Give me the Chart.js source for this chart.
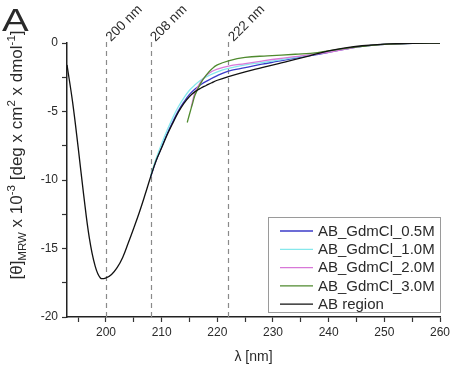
<!DOCTYPE html>
<html>
<head>
<meta charset="utf-8">
<script src="https://cdn.jsdelivr.net/npm/chart.js@4"></script>
<style>
html,body{margin:0;padding:0;background:#fff;}
#c{display:block;}
</style>
</head>
<body>
<canvas id="c" width="457" height="367"></canvas>
<script>
// ---- data ----
const xTicks = [195,200,205,210,215,220,225,230,235,240,245,250,255,260];
const yTicks = [-20,-17.5,-15,-12.5,-10,-7.5,-5,-2.5,0];
const markerLines = [200,208,222];
const markerLabels = ['200 nm','208 nm','222 nm'];

const seriesLabels = ['AB_GdmCl_0.5M','AB_GdmCl_1.0M','AB_GdmCl_2.0M','AB_GdmCl_3.0M','AB region'];
const seriesColors = ['#3b3bc8','#86e8ec','#d878d8','#4f8a2e','#111111'];

const wlAB  = [193,194,195,196,197,198,199,200,201,202,203,204,205,206,207,208,209,210,211,212,213,214,215,216,217,218,219,220,222,225,228,231,234,237,240,243,246,250,255,260];
const valAB = [-1.6,-4.3,-7.6,-11.1,-14.2,-16.2,-17.15,-17.15,-16.9,-16.4,-15.65,-14.6,-13.5,-12.35,-11.1,-9.8,-8.6,-7.65,-6.7,-5.85,-5.05,-4.4,-3.9,-3.55,-3.3,-3.1,-2.9,-2.72,-2.45,-2.1,-1.8,-1.5,-1.2,-0.88,-0.57,-0.35,-0.2,-0.08,-0.02,0];

const wl05  = [208,209,210,211,212,213,214,215,216,217,218,220,222,225,228,231,234,237,240,243,246,250,255,260];
const val05 = [-9.8,-8.6,-7.6,-6.6,-5.75,-4.95,-4.3,-3.75,-3.35,-3.05,-2.8,-2.38,-2.05,-1.8,-1.55,-1.33,-1.1,-0.9,-0.68,-0.45,-0.25,-0.1,-0.03,0];

const wl10  = [208,209,210,211,212,213,214,215,216,217,218,220,222,225,228,231,234,237,240,243,246,250,255,260];
const val10 = [-9.7,-8.45,-7.35,-6.35,-5.45,-4.65,-4.0,-3.45,-3.05,-2.72,-2.47,-2.1,-1.85,-1.6,-1.43,-1.25,-1.05,-0.85,-0.65,-0.42,-0.25,-0.1,-0.03,0];

const wl20  = [215.3,216,217,218,219,220,222,225,228,231,234,237,240,243,246,250,255,260];
const val20 = [-4.7,-3.6,-2.85,-2.38,-2.08,-1.9,-1.68,-1.5,-1.32,-1.15,-1.0,-0.85,-0.68,-0.45,-0.25,-0.1,-0.03,0];

const wl30  = [214.6,215,215.6,216,217,218,219,220,222,225,229,234,238,242,246,250,255,260];
const val30 = [-5.8,-5.2,-4.35,-3.8,-2.95,-2.35,-1.9,-1.6,-1.3,-1.05,-0.94,-0.82,-0.7,-0.45,-0.25,-0.1,-0.03,0];

const seriesX = [wl05, wl10, wl20, wl30, wlAB];
const seriesY = [val05, val10, val20, val30, valAB];

// ---- chart ----
const FONT = '"Liberation Sans", Arial, sans-serif';
const TXT = '#2a2a2a';

const datasets = seriesLabels.map((lab,i)=>({
  label: lab,
  data: seriesX[i].map((x,k)=>({x:x, y:seriesY[i][k]})),
  borderColor: seriesColors[i],
  backgroundColor: seriesColors[i],
  borderWidth: 1.3,
  pointRadius: 0,
  fill: false,
  tension: 0.4
}));
datasets.reverse();

const decor = {
  id: 'decor',
  beforeDatasetsDraw(chart){
    const ctx = chart.ctx, xs = chart.scales.x, ca = chart.chartArea;
    ctx.save();
    ctx.strokeStyle = '#8a8a8a';
    ctx.lineWidth = 1.2;
    ctx.setLineDash([5,4]);
    markerLines.forEach(v=>{
      const px = Math.round(xs.getPixelForValue(v)) + 0.5;
      ctx.beginPath();
      ctx.moveTo(px, ca.top - 1);
      ctx.lineTo(px, ca.bottom);
      ctx.stroke();
    });
    ctx.restore();
  },
  afterDraw(chart){
    const ctx = chart.ctx, xs = chart.scales.x, ca = chart.chartArea;
    ctx.save();
    ctx.fillStyle = TXT;
    ctx.font = '13.5px ' + FONT;
    ctx.textBaseline = 'alphabetic';
    ctx.textAlign = 'left';
    markerLines.forEach((v,i)=>{
      const px = xs.getPixelForValue(v);
      ctx.save();
      ctx.translate(px + 5, ca.top - 1);
      ctx.rotate(-Math.PI/4);
      ctx.fillText(markerLabels[i], 0, 0);
      ctx.restore();
    });
    ctx.save();
    ctx.font = '32px ' + FONT;
    ctx.translate(2, 31);
    ctx.scale(1.25, 1);
    ctx.fillText('A', 0, 0);
    ctx.restore();
    ctx.font = '14px ' + FONT;
    ctx.textAlign = 'center';
    ctx.fillText('λ [nm]', (ca.left + ca.right)/2, 361);
    const parts = [
      ['[θ]', 0], ['MRW', -1], [' x 10', 0], ['-3', 1], [' [deg x cm', 0], ['2', 1], [' x dmol', 0], ['-1', 1], [']', 0]
    ];
    const fs = 17, small = 11.5;
    let total = 0;
    parts.forEach(p=>{ ctx.font = (p[1] ? small : fs) + 'px ' + FONT; total += ctx.measureText(p[0]).width; });
    ctx.save();
    ctx.translate(22, 155);
    ctx.rotate(-Math.PI/2);
    ctx.textAlign = 'left';
    let x0 = -total/2;
    parts.forEach(p=>{
      ctx.font = (p[1] ? small : fs) + 'px ' + FONT;
      const dy = p[1] === -1 ? 3.5 : (p[1] === 1 ? -7 : 0);
      ctx.fillText(p[0], x0, dy);
      x0 += ctx.measureText(p[0]).width;
    });
    ctx.restore();
    const lx = 268, ly = 217, lw = 172, lh = 95;
    ctx.strokeStyle = '#9a9a9a';
    ctx.lineWidth = 1;
    ctx.setLineDash([]);
    ctx.strokeRect(lx + 0.5, ly + 0.5, lw, lh);
    ctx.font = '15px ' + FONT;
    ctx.textAlign = 'left';
    ctx.textBaseline = 'middle';
    seriesLabels.forEach((lab,i)=>{
      const yy = 231 + i*18.3;
      ctx.strokeStyle = seriesColors[i];
      ctx.lineWidth = 1.3;
      ctx.beginPath();
      ctx.moveTo(280, yy);
      ctx.lineTo(313, yy);
      ctx.stroke();
      ctx.fillStyle = TXT;
      ctx.fillText(lab, 318, yy + 0.5);
    });
    ctx.restore();
  }
};

new Chart(document.getElementById('c'), {
  type: 'line',
  data: { datasets },
  options: {
    responsive: false,
    animation: false,
    devicePixelRatio: 1,
    layout: { padding: { left: 0, top: 43, right: 17, bottom: 0 } },
    plugins: { legend: { display: false }, tooltip: { enabled: false } },
    scales: {
      x: {
        type: 'linear',
        min: 193, max: 260,
        afterBuildTicks: ax => { ax.ticks = xTicks.map(v=>({value:v})); },
        afterFit: ax => { ax.height = 50; },
        grid: { drawOnChartArea: false, drawTicks: true, tickLength: 5, tickColor: '#333', tickWidth: 1.2 },
        border: { color: '#222', width: 1.5 },
        ticks: {
          autoSkip: false, maxRotation: 0, padding: 3,
          color: TXT, font: { family: FONT, size: 12 },
          callback: v => (v % 10 === 0 ? String(v) : '')
        }
      },
      y: {
        min: -20, max: 0,
        afterBuildTicks: ax => { ax.ticks = yTicks.map(v=>({value:v})); },
        afterFit: ax => { ax.width = 67; },
        grid: { drawOnChartArea: false, drawTicks: true, tickLength: 5, tickColor: '#333', tickWidth: 1.2 },
        border: { color: '#222', width: 1.5 },
        ticks: {
          autoSkip: false, padding: 4,
          color: TXT, font: { family: FONT, size: 12 },
          callback: v => (v % 5 === 0 ? String(v) : '')
        }
      }
    }
  },
  plugins: [decor]
});
</script>
</body>
</html>
